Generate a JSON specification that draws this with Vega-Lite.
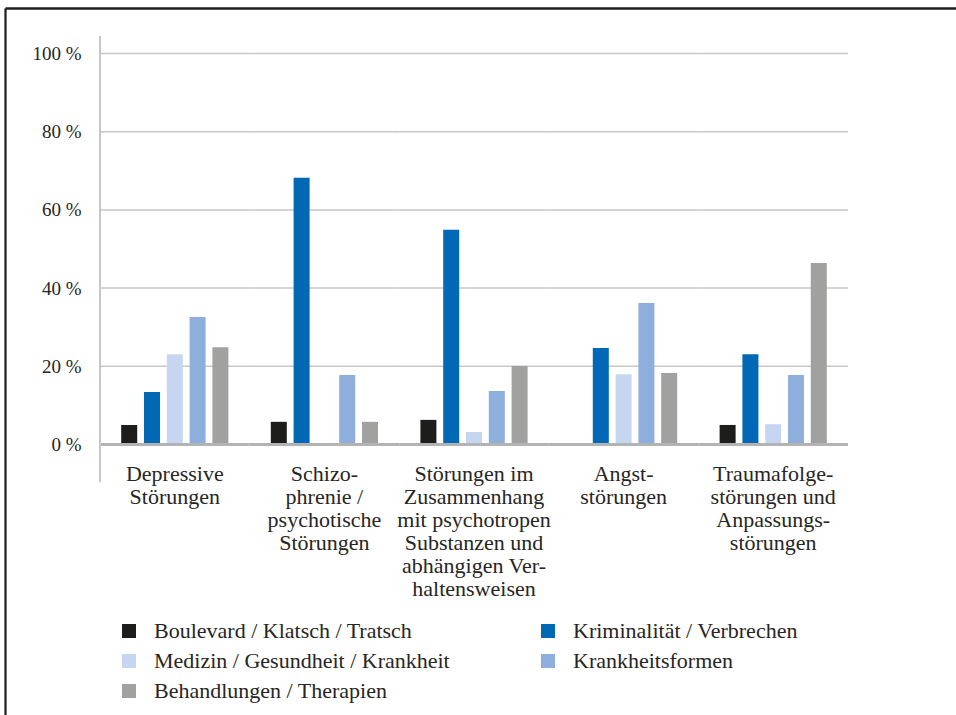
{
  "$schema": "https://vega.github.io/schema/vega-lite/v6.json",
  "width": 951,
  "height": 707,
  "autosize": {"type": "none"},
  "padding": {"left": 5, "top": 8, "right": 0, "bottom": 0},
  "background": "white",
  "config": {"font": "Liberation Serif", "view": {"stroke": null}},
  "datasets": {
    "bars": [
      {"cat": "Depressive|Störungen", "series": "Boulevard / Klatsch / Tratsch", "value": 5.0},
      {"cat": "Depressive|Störungen", "series": "Kriminalität / Verbrechen", "value": 13.4},
      {"cat": "Depressive|Störungen", "series": "Medizin / Gesundheit / Krankheit", "value": 23.1},
      {"cat": "Depressive|Störungen", "series": "Krankheitsformen", "value": 32.6},
      {"cat": "Depressive|Störungen", "series": "Behandlungen / Therapien", "value": 24.9},
      {"cat": "Schizo-|phrenie /|psychotische|Störungen", "series": "Boulevard / Klatsch / Tratsch", "value": 5.8},
      {"cat": "Schizo-|phrenie /|psychotische|Störungen", "series": "Kriminalität / Verbrechen", "value": 68.2},
      {"cat": "Schizo-|phrenie /|psychotische|Störungen", "series": "Krankheitsformen", "value": 17.8},
      {"cat": "Schizo-|phrenie /|psychotische|Störungen", "series": "Behandlungen / Therapien", "value": 5.8},
      {"cat": "Störungen im|Zusammenhang|mit psychotropen|Substanzen und|abhängigen Ver-|haltensweisen", "series": "Boulevard / Klatsch / Tratsch", "value": 6.3},
      {"cat": "Störungen im|Zusammenhang|mit psychotropen|Substanzen und|abhängigen Ver-|haltensweisen", "series": "Kriminalität / Verbrechen", "value": 54.9},
      {"cat": "Störungen im|Zusammenhang|mit psychotropen|Substanzen und|abhängigen Ver-|haltensweisen", "series": "Medizin / Gesundheit / Krankheit", "value": 3.2},
      {"cat": "Störungen im|Zusammenhang|mit psychotropen|Substanzen und|abhängigen Ver-|haltensweisen", "series": "Krankheitsformen", "value": 13.7},
      {"cat": "Störungen im|Zusammenhang|mit psychotropen|Substanzen und|abhängigen Ver-|haltensweisen", "series": "Behandlungen / Therapien", "value": 20.1},
      {"cat": "Angst-|störungen", "series": "Kriminalität / Verbrechen", "value": 24.7},
      {"cat": "Angst-|störungen", "series": "Medizin / Gesundheit / Krankheit", "value": 18.0},
      {"cat": "Angst-|störungen", "series": "Krankheitsformen", "value": 36.2},
      {"cat": "Angst-|störungen", "series": "Behandlungen / Therapien", "value": 18.3},
      {"cat": "Traumafolge-|störungen und|Anpassungs-|störungen", "series": "Boulevard / Klatsch / Tratsch", "value": 5.0},
      {"cat": "Traumafolge-|störungen und|Anpassungs-|störungen", "series": "Kriminalität / Verbrechen", "value": 23.1},
      {"cat": "Traumafolge-|störungen und|Anpassungs-|störungen", "series": "Medizin / Gesundheit / Krankheit", "value": 5.2},
      {"cat": "Traumafolge-|störungen und|Anpassungs-|störungen", "series": "Krankheitsformen", "value": 17.8},
      {"cat": "Traumafolge-|störungen und|Anpassungs-|störungen", "series": "Behandlungen / Therapien", "value": 46.4}
    ],
    "grid": [
      {"cat": "Depressive|Störungen", "g": 0},
      {"cat": "Depressive|Störungen", "g": 20},
      {"cat": "Depressive|Störungen", "g": 40},
      {"cat": "Depressive|Störungen", "g": 60},
      {"cat": "Depressive|Störungen", "g": 80},
      {"cat": "Depressive|Störungen", "g": 100},
      {"cat": "Schizo-|phrenie /|psychotische|Störungen", "g": 0},
      {"cat": "Schizo-|phrenie /|psychotische|Störungen", "g": 20},
      {"cat": "Schizo-|phrenie /|psychotische|Störungen", "g": 40},
      {"cat": "Schizo-|phrenie /|psychotische|Störungen", "g": 60},
      {"cat": "Schizo-|phrenie /|psychotische|Störungen", "g": 80},
      {"cat": "Schizo-|phrenie /|psychotische|Störungen", "g": 100},
      {"cat": "Störungen im|Zusammenhang|mit psychotropen|Substanzen und|abhängigen Ver-|haltensweisen", "g": 0},
      {"cat": "Störungen im|Zusammenhang|mit psychotropen|Substanzen und|abhängigen Ver-|haltensweisen", "g": 20},
      {"cat": "Störungen im|Zusammenhang|mit psychotropen|Substanzen und|abhängigen Ver-|haltensweisen", "g": 40},
      {"cat": "Störungen im|Zusammenhang|mit psychotropen|Substanzen und|abhängigen Ver-|haltensweisen", "g": 60},
      {"cat": "Störungen im|Zusammenhang|mit psychotropen|Substanzen und|abhängigen Ver-|haltensweisen", "g": 80},
      {"cat": "Störungen im|Zusammenhang|mit psychotropen|Substanzen und|abhängigen Ver-|haltensweisen", "g": 100},
      {"cat": "Angst-|störungen", "g": 0},
      {"cat": "Angst-|störungen", "g": 20},
      {"cat": "Angst-|störungen", "g": 40},
      {"cat": "Angst-|störungen", "g": 60},
      {"cat": "Angst-|störungen", "g": 80},
      {"cat": "Angst-|störungen", "g": 100},
      {"cat": "Traumafolge-|störungen und|Anpassungs-|störungen", "g": 0},
      {"cat": "Traumafolge-|störungen und|Anpassungs-|störungen", "g": 20},
      {"cat": "Traumafolge-|störungen und|Anpassungs-|störungen", "g": 40},
      {"cat": "Traumafolge-|störungen und|Anpassungs-|störungen", "g": 60},
      {"cat": "Traumafolge-|störungen und|Anpassungs-|störungen", "g": 80},
      {"cat": "Traumafolge-|störungen und|Anpassungs-|störungen", "g": 100}
    ],
    "axisline": [
      {"cat": "Depressive|Störungen"}
    ]
  },
  "layer": [
    {
      "data": {"name": "grid"},
      "transform": [{"filter": "datum.g > 0"}],
      "mark": {"type": "rect", "fillOpacity": 0, "stroke": "#c8c8c8", "strokeWidth": 1.5},
      "encoding": {
        "x": {
          "field": "cat", "type": "nominal",
          "scale": {
            "domain": [
              "Depressive|Störungen",
              "Schizo-|phrenie /|psychotische|Störungen",
              "Störungen im|Zusammenhang|mit psychotropen|Substanzen und|abhängigen Ver-|haltensweisen",
              "Angst-|störungen",
              "Traumafolge-|störungen und|Anpassungs-|störungen"
            ],
            "paddingInner": 0, "paddingOuter": 0.6785, "align": 0.468
          },
          "axis": {"orient": "top", "domain": true, "domainColor": "#1d1d1b", "domainWidth": 2.5, "labels": false, "ticks": false, "grid": false, "title": null}
        },
        "y": {
          "field": "g", "type": "quantitative",
          "scale": {"domain": [-69.18, 111.64], "nice": false, "zero": false},
          "axis": {"orient": "left", "domain": true, "domainColor": "#1d1d1b", "domainWidth": 2.2, "labels": false, "ticks": false, "grid": false, "title": null}
        },
        "y2": {"field": "g"}
      }
    },
    {
      "data": {"name": "bars"},
      "mark": {"type": "bar"},
      "encoding": {
        "x": {
          "field": "cat", "type": "nominal",
          "axis": {
            "orient": "bottom", "offset": -270, "domain": false, "ticks": false, "grid": false, "title": null,
            "labelAngle": 0, "labelExpr": "split(datum.label, '|')", "labelFontSize": 22, "labelLineHeight": 23,
            "labelBaseline": "top", "labelPadding": 18, "labelColor": "#262624", "labelLimit": 400, "labelFont": "Liberation Serif"
          }
        },
        "y": {
          "field": "value", "type": "quantitative",
          "axis": {
            "orient": "left", "offset": -95, "domain": false, "ticks": false, "grid": false, "title": null,
            "values": [0, 20, 40, 60, 80, 100], "labelExpr": "datum.value + ' %'", "labelFontSize": 19,
            "labelPadding": 19, "labelColor": "#262624", "labelFont": "Liberation Serif"
          }
        },
        "y2": {"datum": 0},
        "xOffset": {
          "field": "series", "type": "nominal",
          "scale": {
            "domain": ["Boulevard / Klatsch / Tratsch", "Kriminalität / Verbrechen", "Medizin / Gesundheit / Krankheit", "Krankheitsformen", "Behandlungen / Therapien"],
            "paddingInner": 0.298, "paddingOuter": 0.93
          }
        },
        "color": {
          "field": "series", "type": "nominal",
          "scale": {
            "domain": ["Boulevard / Klatsch / Tratsch", "Medizin / Gesundheit / Krankheit", "Behandlungen / Therapien", "Kriminalität / Verbrechen", "Krankheitsformen"],
            "range": ["#1d1d1b", "#c7d6f0", "#a1a1a0", "#0068b4", "#8eaedb"]
          },
          "legend": {
            "orient": "none", "legendX": 113, "legendY": 612, "title": null, "columns": 2,
            "columnPadding": 87, "rowPadding": 8, "symbolType": "square", "symbolSize": 196,
            "symbolStrokeWidth": 0, "symbolOpacity": 1, "labelFont": "Liberation Serif", "labelFontSize": 22,
            "labelOffset": 14, "labelLimit": 400, "labelColor": "#262624", "padding": 0
          }
        }
      }
    },
    {
      "data": {"name": "grid"},
      "transform": [{"filter": "datum.g === 0"}],
      "mark": {"type": "rect", "fillOpacity": 0, "stroke": "#b3b3b3", "strokeWidth": 3},
      "encoding": {
        "x": {"field": "cat", "type": "nominal", "axis": null},
        "y": {"field": "g", "type": "quantitative", "axis": null},
        "y2": {"field": "g"}
      }
    },
    {
      "data": {"name": "axisline"},
      "mark": {"type": "rule", "stroke": "#c6c6c6", "strokeWidth": 2},
      "encoding": {
        "x": {"field": "cat", "type": "nominal", "bandPosition": 0, "axis": null},
        "y": {"datum": 104.5, "type": "quantitative", "axis": null},
        "y2": {"datum": -9.6}
      }
    }
  ],
  "resolve": {"axis": {"x": "independent", "y": "independent"}}
}
